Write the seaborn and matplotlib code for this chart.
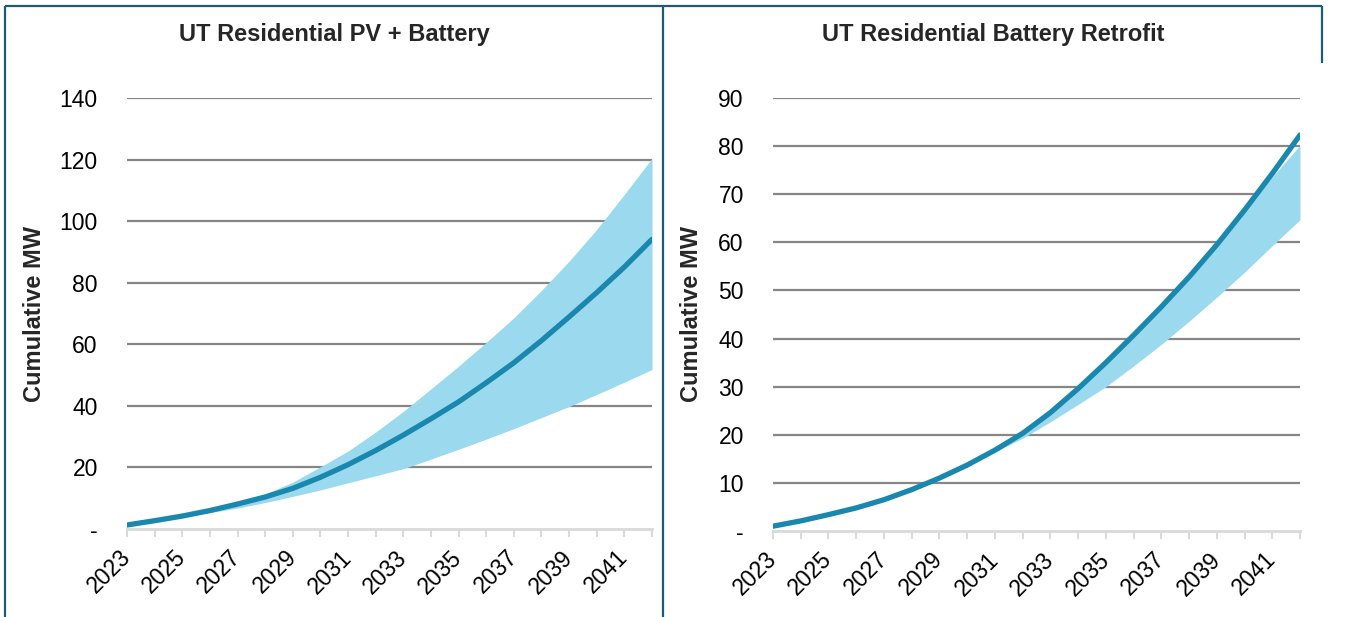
import numpy as np
import pandas as pd
import matplotlib
matplotlib.use("Agg")
import matplotlib.pyplot as plt
from matplotlib.lines import Line2D
import seaborn as sns

# Forecast years
years = list(range(2023, 2043))

# UT Residential PV + Battery (cumulative MW)
pv_mid = [1.3, 2.7, 4.2, 6.0, 8.1, 10.4, 13.2, 16.8, 20.9, 25.5,
          30.5, 35.8, 41.3, 47.5, 54.0, 61.2, 68.9, 76.8, 85.1, 94.1]
pv_high = [1.3, 2.7, 4.3, 6.2, 8.5, 11.4, 15.2, 20.2, 25.3, 31.5,
           38.2, 45.5, 52.9, 60.6, 68.6, 77.5, 87.0, 97.3, 108.7, 120.4]
pv_low = [1.3, 2.6, 3.9, 5.3, 6.8, 8.6, 10.6, 12.7, 15.0, 17.3,
          19.6, 22.7, 25.9, 29.2, 32.6, 36.2, 39.8, 43.7, 47.7, 51.8]

# UT Residential Battery Retrofit (cumulative MW)
rf_mid = [1.0, 2.1, 3.4, 4.8, 6.5, 8.6, 11.0, 13.7, 16.8, 20.3,
          24.6, 29.6, 35.0, 40.7, 46.6, 52.8, 59.5, 66.7, 74.3, 82.3]
rf_high = [1.0, 2.1, 3.4, 4.8, 6.5, 8.6, 11.0, 13.7, 16.8, 20.3,
           24.6, 29.6, 35.0, 40.7, 46.6, 52.8, 59.4, 66.4, 73.6, 80.2]
rf_low = [1.0, 2.1, 3.4, 4.8, 6.5, 8.6, 10.9, 13.5, 16.4, 19.3,
          22.7, 26.3, 30.0, 34.3, 38.8, 43.6, 48.6, 53.8, 59.3, 64.7]

titles = ["UT Residential PV + Battery", "UT Residential Battery Retrofit"]
y_ticks = [[0, 20, 40, 60, 80, 100, 120, 140],
           [0, 10, 20, 30, 40, 50, 60, 70, 80, 90]]
y_limits = [(0, 140), (0, 90)]
x_labels = [str(y) if (y - 2023) % 2 == 0 else "" for y in years]

LINE = "#1A87AE"
BAND = "#9BD9EE"
GRID = "#868686"
AXIS = "#D9D9D9"
FRAME = "#1D5B75"

sns.set_theme(style="white")
plt.rcParams["font.family"] = ["Liberation Sans", "DejaVu Sans"]

W, H = 1345, 617
fig = plt.figure(figsize=(W / 100, H / 100), dpi=100)

# axes boxes in pixel coordinates (left, top, right, bottom)
boxes = [(127, 98, 652, 529), (773, 98, 1300, 531)]
# panel centres for titles and y-axis label positions (pixels)
title_x = [334, 993]
ylabel_x = [35, 692]

frames = []
for p in [(pv_mid, pv_low, pv_high), (rf_mid, rf_low, rf_high)]:
    frames.append(pd.DataFrame({"year": years, "mid": p[0], "low": p[1], "high": p[2]}))

for i, df in enumerate(frames):
    l, t, r, b = boxes[i]
    ax = fig.add_axes([l / W, (H - b) / H, (r - l) / W, (b - t) / H])
    ax.fill_between(df["year"], df["low"], df["high"], color=BAND, lw=0, zorder=2)
    sns.lineplot(data=df, x="year", y="mid", ax=ax, color=LINE, lw=3.8,
                 solid_capstyle="round", zorder=3)
    ax.set_xlim(2023, 2042)
    ax.set_ylim(*y_limits[i])
    ax.set_yticks(y_ticks[i])
    ax.set_yticklabels(["-"] + [str(v) for v in y_ticks[i][1:]], fontsize=16.5, color="black")
    ax.set_xticks(years)
    ax.set_xticklabels(x_labels, rotation=45, ha="right", va="center",
                       rotation_mode="anchor", fontsize=16.5, color="black")
    ax.tick_params(axis="x", length=6, width=1.5, color=AXIS, direction="out", pad=12,
                   bottom=True)
    ax.tick_params(axis="y", length=0, pad=21)
    for v in y_ticks[i][1:]:
        ax.axhline(v, color=GRID, lw=1.6, zorder=1)
    for s in ["top", "right", "left"]:
        ax.spines[s].set_visible(False)
    ax.spines["bottom"].set_color(AXIS)
    ax.spines["bottom"].set_linewidth(2)
    ax.spines["bottom"].set_zorder(1)
    ax.set_xlabel("")
    ax.set_ylabel("")
    ax.grid(False)
    fig.text(ylabel_x[i] / W, 1 - (t + b) / 2 / H, "Cumulative MW", rotation=90,
             ha="center", va="center", fontsize=17, fontweight="bold")
    fig.text(title_x[i] / W, 1 - 35 / H, titles[i], ha="center", va="center",
             fontsize=17, fontweight="bold")

# panel frames
def fline(x0, y0, x1, y1):
    fig.add_artist(Line2D([x0 / W, x1 / W], [1 - y0 / H, 1 - y1 / H],
                          color=FRAME, lw=1.6, solid_capstyle="butt"))

fline(5, 6, 5, 617)
fline(5, 6, 1322, 6)
fline(663, 6, 663, 617)
fline(1322, 6, 1322, 63)

fig.savefig("out.png", dpi=100)
